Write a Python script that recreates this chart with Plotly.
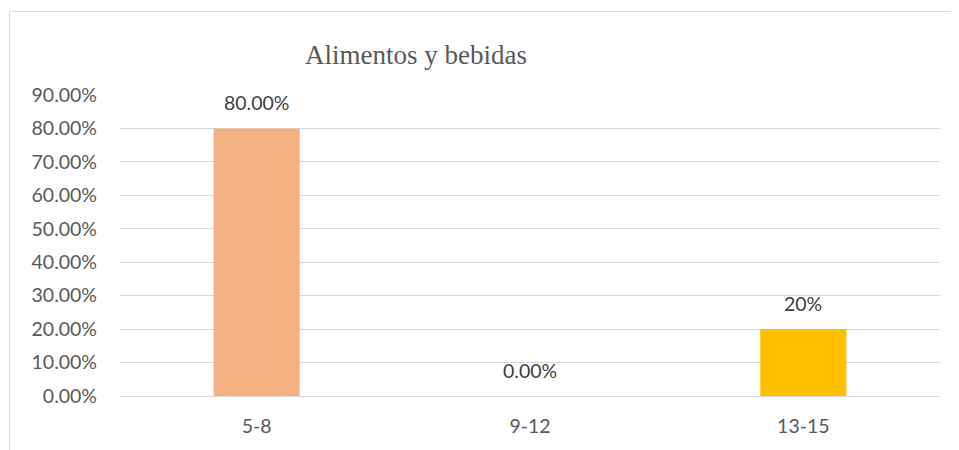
import plotly.graph_objects as go

categories = ["5-8", "9-12", "13-15"]
values = [0.80, 0.0, 0.20]
value_labels = ["80.00%", "0.00%", "20%"]
bar_colors = ["#F4B183", "#A9D18E", "#FFC000"]
tick_vals = [i / 100 for i in range(0, 100, 10)]
tick_text = [f"{v * 100:.2f}%" for v in tick_vals]
title_text = "Alimentos y bebidas"

# page body has an 8px margin; figure is placed at (8, 8)
OFF = 8
W, H = 959 - OFF, 450 - OFF
ml, mr, mt, mb = 120 - OFF, 19, 95 - OFF, 54
pw, ph = W - ml - mr, H - mt - mb

FONT = "Lato"
FS = 19.5

fig = go.Figure()
fig.add_trace(go.Bar(
    x=categories, y=values,
    marker=dict(color=bar_colors, line=dict(width=0)),
    hoverinfo="skip",
))


def px_x(p):
    return (p - OFF - ml) / pw


def px_y(p):
    return (H - mb - (p - OFF)) / ph


annotations = [dict(
    text=title_text, xref="paper", yref="paper",
    x=px_x(416), y=px_y(55), xanchor="center", yanchor="middle",
    showarrow=False,
    font=dict(family="Liberation Serif", size=27, color="#595959"),
)]
for c, v, t in zip(categories, values, value_labels):
    annotations.append(dict(
        x=c, y=v, xref="x", yref="y", text=t, showarrow=False,
        xanchor="center", yanchor="middle", yshift=26,
        font=dict(family=FONT, size=FS, color="#404040"),
    ))

fig.update_layout(
    width=W, height=H,
    margin=dict(l=ml, r=mr, t=mt, b=mb, pad=0),
    paper_bgcolor="white", plot_bgcolor="white",
    bargap=0.685, showlegend=False,
    font=dict(family=FONT, size=FS, color="#595959"),
    annotations=annotations,
    shapes=[
        dict(type="line", xref="paper", yref="paper",
             x0=px_x(9.5), x1=px_x(959 + 5), y0=px_y(11.5), y1=px_y(11.5),
             line=dict(color="#D9D9D9", width=1)),
        dict(type="line", xref="paper", yref="paper",
             x0=px_x(9.5), x1=px_x(9.5), y0=px_y(11.5), y1=px_y(450 + 5),
             line=dict(color="#D9D9D9", width=1)),
    ],
)
fig.update_xaxes(
    showgrid=False, showline=False, zeroline=False, ticks="",
    tickfont=dict(family=FONT, size=FS, color="#595959"),
    ticklabelstandoff=16,
)
fig.update_yaxes(
    range=[0, 0.9], tickvals=tick_vals, ticktext=tick_text,
    showgrid=True, gridcolor="#D9D9D9", gridwidth=1,
    zeroline=True, zerolinecolor="#D9D9D9", zerolinewidth=1,
    showline=False, ticks="",
    tickfont=dict(family=FONT, size=FS, color="#595959"),
    ticklabelstandoff=22,
)
fig.write_html("out.html")
